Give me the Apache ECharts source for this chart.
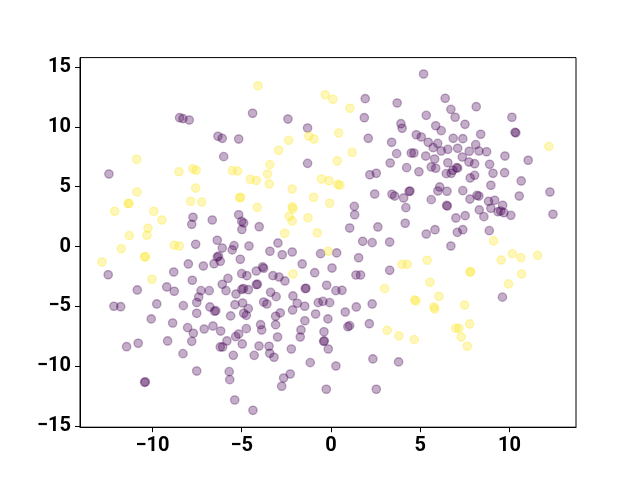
<!DOCTYPE html>
<html>
<head>
<meta charset="utf-8">
<script src="https://cdn.jsdelivr.net/npm/echarts@6/dist/echarts.min.js"></script>
<style>
    html, body { margin: 0; padding: 0; background: #fff; }
    #main { width: 640px; height: 480px; }
</style>
</head>
<body>
<div id="main"></div>
<script>
// 刻度
var xTicks = [-10, -5, 0, 5, 10];
var yTicks = [-15, -10, -5, 0, 5, 10, 15];

// 紫色点 (label 0)
var purplePts = [
    [-8.48, 10.76], [-8.29, 10.68], [-7.94, 10.57], [-6.33, 9.21], [-6.09, 9.04], [-5.17, 8.98], [-6.01, 7.51], [-12.44, 6.06],
    [1.92, 12.35], [3.71, 11.99], [-4.39, 11.13], [-2.41, 10.65], [1.87, 10.76], [3.92, 10.26], [3.99, 9.88], [-1.31, 9.90],
    [2.09, 9.04], [3.40, 8.71], [3.68, 7.76], [4.50, 7.81], [4.65, 7.81], [-1.31, 6.95], [3.32, 6.98], [4.24, 6.59], [2.18, 6.00], [2.54, 6.12],
    [5.19, 14.41], [6.40, 12.38], [8.14, 11.68], [6.72, 11.46], [5.34, 10.96], [6.96, 10.80], [10.14, 10.80], [5.87, 10.09],
    [6.18, 9.68], [7.51, 10.21], [10.31, 9.54], [10.36, 9.50], [4.78, 9.34], [5.06, 9.15], [6.85, 9.04], [7.39, 9.01],
    [8.39, 9.38], [5.45, 8.71], [5.98, 8.62], [5.73, 8.26], [8.11, 8.51], [6.18, 7.98], [6.55, 8.12], [7.10, 8.21],
    [7.75, 7.96], [8.29, 7.98], [8.72, 7.92], [5.31, 7.56], [5.81, 7.31], [7.36, 7.48], [9.75, 7.56], [11.05, 7.21],
    [5.62, 6.65], [5.87, 6.54], [6.55, 7.00], [7.73, 7.06], [8.05, 6.92], [8.89, 6.87], [7.04, 6.59], [7.10, 6.55],
    [6.83, 6.37], [4.93, 6.25], [6.46, 6.09], [6.74, 6.12], [9.08, 6.12], [9.73, 6.17], [8.05, 5.95], [7.80, 5.73], [10.66, 5.48],
    [-12.48, -2.35], [-7.73, 2.45], [-7.80, 1.86], [-6.65, 2.22], [-5.17, 2.66], [-4.89, 1.97], [-5.00, 2.10], [-4.99, 1.43],
    [-7.58, 0.19], [-6.37, 0.53], [-6.09, -0.12], [-5.43, 0.08], [-5.53, -0.28], [-6.37, -0.87], [-6.30, -0.80], [-6.20, -1.23],
    [-6.55, -1.43], [-5.08, -1.06], [-7.99, -1.45], [-7.15, -1.62], [-8.81, -2.12], [-5.00, -2.26], [-4.71, -2.43], [-5.77, -2.65],
    [-7.77, -2.81], [-10.85, -3.62], [-9.20, -3.37], [-8.78, -3.73], [-6.09, -3.15], [-5.88, -3.68], [-7.28, -3.68], [-6.82, -3.68],
    [-4.99, -3.58], [-4.90, -3.50], [-4.63, -3.60], [-5.32, -3.96], [-7.41, -4.21], [-7.52, -4.67],
    [-12.16, -4.98], [-11.78, -5.02], [-9.76, -4.79], [-8.27, -4.93], [-7.52, -5.57], [-6.78, -5.04], [-6.52, -5.40], [-6.45, -5.35],
    [-5.38, -4.85], [-4.95, -4.71], [-4.89, -5.57], [-4.74, -5.74], [-10.07, -6.04], [-8.87, -6.38], [-8.03, -6.77], [-7.71, -7.24],
    [-7.80, -7.91], [-7.10, -6.88], [-6.61, -6.63], [-6.18, -7.05], [-5.62, -5.79], [-5.83, -7.88], [-5.34, -7.52], [-5.17, -7.30],
    [-4.97, -8.13], [-4.74, -6.85], [-6.20, -8.38], [-6.07, -8.38], [-5.47, -9.08], [-11.45, -8.36], [-10.80, -8.07], [-9.15, -7.88],
    [-8.29, -8.94], [-7.52, -10.39], [-5.70, -10.44], [-5.67, -11.11], [-5.39, -12.81], [-10.44, -11.33], [-10.40, -11.30],
    [-3.77, -4.63], [-3.59, -4.79], [-3.07, -4.18], [-1.89, -4.73], [-1.47, -4.98], [-0.71, -4.68], [-0.45, -4.57], [-0.07, -4.68],
    [-4.63, -5.18], [-2.15, -5.29], [-3.10, -5.82], [-2.84, -5.54], [-0.86, -5.63], [-0.17, -6.04], [0.80, -5.46], [1.42, -5.04],
    [2.31, -4.79], [-1.46, -6.19], [-3.94, -6.52], [-3.88, -6.96], [-3.10, -6.52], [-1.68, -6.96], [-1.72, -7.55], [-2.99, -7.55],
    [0.95, -6.69], [1.05, -6.60], [2.15, -6.44], [-0.39, -7.11], [-0.41, -7.91], [-0.37, -7.88], [-0.15, -8.55], [-4.03, -8.30],
    [-3.47, -8.32], [-3.43, -8.91], [-3.19, -9.24], [-4.30, -9.08], [-2.22, -8.55], [-1.16, -9.69], [0.28, -9.97], [2.35, -9.38],
    [3.79, -9.63], [-2.28, -10.64], [-2.65, -10.97], [-2.76, -11.66], [-0.26, -11.91], [2.54, -11.91], [-4.37, -13.67], [9.61, -4.22],
    [2.45, 4.39], [3.42, 4.37], [3.57, 4.22], [4.43, 4.64], [4.38, 4.60], [4.07, 4.06], [4.20, 3.25], [1.31, 3.36],
    [1.33, 2.66], [1.05, 1.55], [2.63, 1.64], [4.16, 1.95], [-4.02, 1.66], [1.78, 0.44], [2.31, 0.33], [3.29, 0.38],
    [-4.59, 0.05], [-2.97, 0.30], [-3.42, -0.39], [-2.73, -0.68], [-2.17, -0.45], [-0.58, -0.59], [0.32, -0.53], [1.55, -0.93],
    [-1.61, -1.45], [0.06, -1.79], [3.29, -1.98], [-0.91, -2.18], [1.40, -2.37], [1.66, -2.37], [-3.83, -1.70], [-3.77, -1.81],
    [-4.18, -2.04], [-3.25, -2.43], [-2.91, -2.54], [-2.58, -2.87], [-4.18, -3.18], [-4.12, -3.14], [-3.38, -3.82], [-2.13, -4.12],
    [-1.44, -3.51], [-1.40, -3.48], [-0.24, -3.23], [0.28, -3.68], [0.62, -3.65],
    [6.09, 4.98], [5.99, 4.64], [6.50, 4.62], [8.96, 5.12], [12.27, 4.56], [7.39, 4.67], [8.18, 4.28], [8.29, 4.22],
    [7.79, 3.97], [10.55, 4.22], [5.62, 3.92], [8.83, 3.78], [9.17, 3.87], [6.52, 3.39], [6.48, 3.44], [8.96, 3.20],
    [9.62, 3.45], [8.31, 3.06], [9.36, 2.91], [9.51, 2.97], [9.69, 2.83], [10.08, 2.61], [12.44, 2.70], [7.00, 2.39],
    [7.52, 2.58], [8.57, 2.50], [5.34, 1.05], [5.83, 1.41], [7.08, 1.19], [7.39, 1.41], [8.87, 1.33], [6.72, 0.05]
];

// 黄色点 (label 1)
var yellowPts = [
    [-10.88, 7.29], [-8.52, 6.25], [-7.73, 6.50], [-7.55, 6.37], [-5.53, 6.34], [-5.23, 6.31], [-4.09, 13.43], [-0.32, 12.68],
    [0.11, 12.30], [1.06, 11.55], [-1.25, 9.23], [-0.95, 8.98], [0.43, 9.48], [-2.37, 8.87], [-2.93, 8.04], [1.19, 7.87],
    [-3.42, 6.84], [0.35, 7.15], [-3.55, 6.06], [-4.52, 5.62], [-4.18, 5.52], [-3.46, 5.23], [-0.53, 5.64], [-0.11, 5.50],
    [0.38, 5.20], [0.50, 5.12], [-10.87, 4.56], [-11.36, 3.58], [-11.32, 3.62], [-12.12, 2.95], [-7.58, 4.89], [-7.86, 3.78],
    [-7.24, 3.72], [-5.11, 4.08], [-5.07, 4.12], [-9.92, 2.95], [-9.47, 2.22], [-10.25, 1.53], [-10.31, 0.94], [-11.30, 0.91],
    [-11.75, -0.18], [-12.83, -1.29], [-10.44, -0.87], [-10.40, -0.84], [-8.78, 0.11], [-8.50, 0.05], [-10.03, -2.73], [-2.17, 4.81],
    [-0.97, 4.12], [-0.07, 3.62], [-4.13, 3.28], [-2.17, 3.33], [-2.13, 3.16], [-2.34, 2.53], [-2.17, 2.14], [-1.29, 2.41],
    [-0.77, 1.14], [-2.59, 1.11], [-0.15, -0.39], [-2.13, -2.29], [3.98, -1.48], [4.27, -1.48], [3.01, -3.51], [9.11, 0.47],
    [10.16, -0.59], [10.64, -0.93], [9.54, -1.12], [11.58, -0.73], [5.39, -1.14], [7.79, -2.12], [7.83, -2.09], [10.68, -2.29],
    [9.95, -3.12], [5.55, -2.98], [6.05, -4.15], [4.69, -4.45], [4.76, -4.54], [5.77, -5.04], [5.81, -5.21], [7.49, -4.88],
    [7.77, -6.46], [6.99, -6.82], [7.17, -6.82], [7.30, -7.55], [7.64, -8.32], [4.67, -7.77], [3.15, -6.99], [3.81, -7.46],
    [12.21, 8.37]
];

var purple = 'rgba(68, 1, 84, 0.4)';
var yellow = 'rgba(253, 231, 37, 0.4)';

// 负号用 unicode minus
function fmt(v) {
    return String(v).replace('-', '\u2212');
}

var labelStyle = {
    color: '#000',
    fontFamily: 'Roboto',
    fontWeight: 'bold',
    fontSize: 20
};

var myChart = echarts.init(document.getElementById('main'), null, { renderer: 'canvas' });

var option = {
    animation: false,
    backgroundColor: '#fff',
    grid: {
        left: 80,
        right: 64,
        top: 57.6,
        bottom: 52.8,
        containLabel: false,
        outerBoundsMode: 'none',
        show: true,
        borderColor: '#000',
        borderWidth: 1,
        backgroundColor: 'transparent'
    },
    xAxis: {
        type: 'value',
        min: -14.06,
        max: 13.73,
        splitLine: { show: false },
        axisLine: { show: true, onZero: false, lineStyle: { color: '#000', width: 1 } },
        axisTick: { show: true, inside: false, length: 5, lineStyle: { color: '#000', width: 1 }, customValues: xTicks },
        axisLabel: Object.assign({ margin: 9, customValues: xTicks, formatter: fmt }, labelStyle)
    },
    yAxis: {
        type: 'value',
        min: -15.08,
        max: 15.78,
        splitLine: { show: false },
        axisLine: { show: true, onZero: false, lineStyle: { color: '#000', width: 1 } },
        axisTick: { show: true, inside: false, length: 5, lineStyle: { color: '#000', width: 1 }, customValues: yTicks },
        axisLabel: Object.assign({ margin: 9, customValues: yTicks, formatter: fmt }, labelStyle)
    },
    series: [{
            type: 'scatter',
            data: purplePts,
            symbol: 'circle',
            symbolSize: 8.4,
            itemStyle: { color: purple, borderColor: purple, borderWidth: 1.3 }
        },
        {
            type: 'scatter',
            data: yellowPts,
            symbol: 'circle',
            symbolSize: 8.4,
            itemStyle: { color: yellow, borderColor: yellow, borderWidth: 1.3 }
        }
    ]
};

myChart.setOption(option);
</script>
</body>
</html>
